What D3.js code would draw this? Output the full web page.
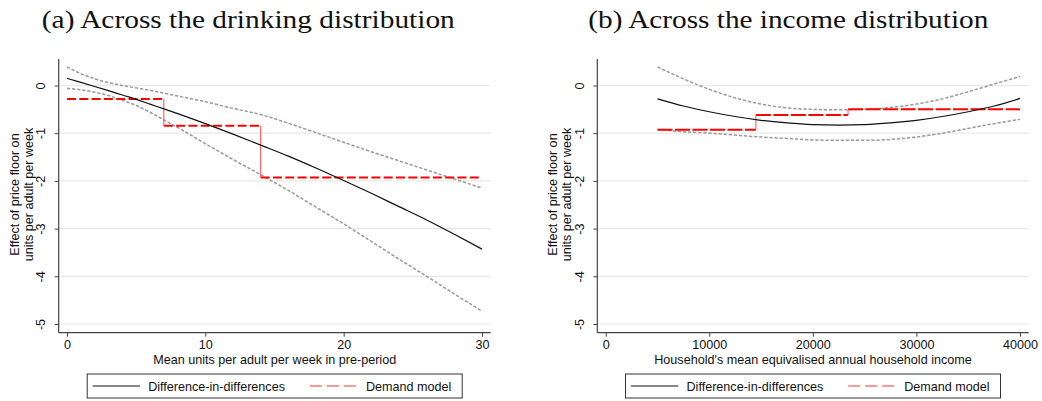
<!DOCTYPE html>
<html>
<head>
<meta charset="utf-8">
<script src="https://cdn.jsdelivr.net/npm/d3@7"></script>
<style>
  html, body { margin: 0; padding: 0; background: #fff; }
  svg { display: block; }
</style>
</head>
<body>
<svg id="chart" width="1042" height="401"></svg>
<script>
// ---------- data ----------
const panelTitles = ["(a) Across the drinking distribution", "(b) Across the income distribution"];
const xTitles = ["Mean units per adult per week in pre-period", "Household's mean equivalised annual household income"];
const yTitleLines = ["Effect of price floor on", "units per adult per week"];
const yTicks = [0, -1, -2, -3, -4, -5];
const legendLabels = ["Difference-in-differences", "Demand model"];

// Panel (a): drinking distribution
const drinkTicks = [0, 10, 20, 30];
const drinkX      = [0, 1, 2, 3, 4, 5, 6, 7, 8, 10, 12, 14, 16, 18, 20, 22, 24, 26, 28, 30];
const drinkDiD    = [0.15, 0.066, -0.02, -0.108, -0.20, -0.29, -0.39, -0.49, -0.59, -0.80, -1.02, -1.25, -1.48, -1.73, -1.99, -2.26, -2.54, -2.82, -3.12, -3.43];
const drinkUpper  = [0.39, 0.25, 0.14, 0.06, 0.00, -0.05, -0.10, -0.16, -0.22, -0.34, -0.48, -0.61, -0.79, -0.99, -1.19, -1.39, -1.58, -1.77, -1.96, -2.15];
const drinkLower  = [-0.06, -0.09, -0.14, -0.21, -0.31, -0.42, -0.56, -0.72, -0.88, -1.22, -1.55, -1.87, -2.20, -2.55, -2.90, -3.27, -3.64, -4.00, -4.37, -4.73];
const drinkDemandBreaks = [0, 7, 14, 30];
const drinkDemandLevels = [-0.285, -0.845, -1.93];

// Panel (b): income distribution
const incomeTicks = [0, 10000, 20000, 30000, 40000];
const incomeX     = [5000, 7500, 10000, 12500, 15000, 17500, 20000, 22500, 25000, 27500, 30000, 32500, 35000, 37500, 40000];
const incomeDiD   = [-0.28, -0.43, -0.55, -0.65, -0.73, -0.785, -0.82, -0.83, -0.82, -0.785, -0.73, -0.65, -0.55, -0.43, -0.27];
const incomeUpper = [0.39, 0.14, -0.08, -0.26, -0.39, -0.47, -0.50, -0.51, -0.50, -0.46, -0.39, -0.28, -0.13, 0.03, 0.19];
const incomeLower = [-0.92, -0.97, -1.00, -1.04, -1.08, -1.11, -1.14, -1.15, -1.15, -1.13, -1.08, -1.00, -0.90, -0.80, -0.71];
const incomeDemandBreaks = [5000, 14500, 23400, 40000];
const incomeDemandLevels = [-0.93, -0.62, -0.50];

// ---------- drawing ----------
const svg = d3.select("#chart");
const SANS = "'Liberation Sans', Arial, sans-serif";
const SERIF = "'Liberation Serif', 'Times New Roman', serif";
const FS = 12.6;
const fmt = d => String(d);

function drawPanel(o) {
  const g = svg.append("g");
  const x = d3.scaleLinear().domain(o.xDomain).range(o.xRange);
  const y = d3.scaleLinear().domain([0, -5]).range([85.5, 324]);
  const left = o.axisX, right = o.plotRight, top = 59, bottom = 332.7;

  // title
  g.append("text")
    .attr("x", o.titleX).attr("y", 27.5)
    .attr("text-anchor", "middle")
    .attr("font-family", SERIF).attr("font-size", 26)
    .attr("fill", "#111")
    .attr("textLength", o.titleWidth).attr("lengthAdjust", "spacingAndGlyphs")
    .text(o.title);

  // gridlines
  g.selectAll("line.grid").data(yTicks).enter().append("line")
    .attr("x1", left).attr("x2", right)
    .attr("y1", d => y(d)).attr("y2", d => y(d))
    .attr("stroke", "#e8e8e8").attr("stroke-width", 1.2);

  // y axis
  const yAxis = d3.axisLeft(y).tickValues(yTicks).tickSize(4).tickFormat(fmt);
  const ya = g.append("g").attr("transform", `translate(${left},0)`).call(yAxis);
  ya.select(".domain").attr("d", `M0,${top}V${bottom}`).attr("stroke", "#444").attr("stroke-width", 1.2);
  ya.selectAll(".tick line").attr("stroke", "#444");
  ya.selectAll(".tick text")
    .attr("font-family", SANS).attr("font-size", FS).attr("fill", "#111")
    .attr("x", null).attr("dy", null)
    .attr("text-anchor", "middle")
    .attr("transform", "translate(-13.5,0) rotate(-90)");

  // x axis
  const xAxis = d3.axisBottom(x).tickValues(o.ticks).tickSize(4).tickFormat(fmt);
  const xa = g.append("g").attr("transform", `translate(0,${bottom})`).call(xAxis);
  xa.select(".domain").attr("d", `M${left},0H${right}`).attr("stroke", "#444").attr("stroke-width", 1.2);
  xa.selectAll(".tick line").attr("stroke", "#444");
  xa.selectAll(".tick text")
    .attr("font-family", SANS).attr("font-size", FS).attr("fill", "#111")
    .attr("y", 16.5).attr("dy", null);

  // axis titles
  g.append("text")
    .attr("x", (left + right) / 2).attr("y", 363.5)
    .attr("text-anchor", "middle")
    .attr("font-family", SANS).attr("font-size", FS).attr("fill", "#111")
    .text(o.xTitle);
  yTitleLines.forEach((line, i) => {
    g.append("text")
      .attr("transform", `translate(${left - 40.2 + i * 14},194.5) rotate(-90)`)
      .attr("text-anchor", "middle")
      .attr("font-family", SANS).attr("font-size", FS).attr("fill", "#111")
      .text(line);
  });

  const line = d3.line().x(d => x(d[0])).y(d => y(d[1])).curve(d3.curveMonotoneX);

  // confidence bands (gray dashed)
  [o.upper, o.lower].forEach(arr => {
    g.append("path")
      .datum(o.xs.map((v, i) => [v, arr[i]]))
      .attr("d", line)
      .attr("fill", "none").attr("stroke", "#9a9a9a")
      .attr("stroke-width", 1.5).attr("stroke-dasharray", "3.3,1.8");
  });

  // demand model step line
  o.levels.forEach((lv, i) => {
    g.append("line")
      .attr("x1", x(o.breaks[i])).attr("x2", x(o.breaks[i + 1]))
      .attr("y1", y(lv)).attr("y2", y(lv))
      .attr("stroke", "#ff0000").attr("stroke-width", 2)
      .attr("stroke-dasharray", o.redDash);
    if (i > 0) {
      g.append("line")
        .attr("x1", x(o.breaks[i])).attr("x2", x(o.breaks[i]))
        .attr("y1", y(o.levels[i - 1])).attr("y2", y(lv))
        .attr("stroke", "#ff4a4a").attr("stroke-width", 1);
    }
  });

  // DiD line
  g.append("path")
    .datum(o.xs.map((v, i) => [v, o.did[i]]))
    .attr("d", line)
    .attr("fill", "none").attr("stroke", "#111").attr("stroke-width", 1.2);

  // legend
  const lx = (left + right) / 2 - 187.5, ly = 374;
  const lg = g.append("g").attr("transform", `translate(${lx},${ly})`);
  lg.append("rect").attr("width", 375).attr("height", 24)
    .attr("fill", "#fff").attr("stroke", "#333").attr("stroke-width", 1);
  lg.append("line").attr("x1", 5.4).attr("x2", 52.7).attr("y1", 12).attr("y2", 12)
    .attr("stroke", "#111").attr("stroke-width", 1);
  lg.append("text").attr("x", 61).attr("y", 16.5)
    .attr("font-family", SANS).attr("font-size", FS).attr("fill", "#111")
    .text(legendLabels[0]);
  lg.append("line").attr("x1", 222.7).attr("x2", 270).attr("y1", 12).attr("y2", 12)
    .attr("stroke", "#ff3030").attr("stroke-width", 1).attr("stroke-dasharray", "12,5");
  lg.append("text").attr("x", 278.7).attr("y", 16.5)
    .attr("font-family", SANS).attr("font-size", FS).attr("fill", "#111")
    .text(legendLabels[1]);
}

drawPanel({
  title: panelTitles[0], titleX: 248.3, titleWidth: 413,
  xDomain: [0, 30], xRange: [67, 482], axisX: 58.7, plotRight: 490.7,
  ticks: drinkTicks, xTitle: xTitles[0],
  xs: drinkX, did: drinkDiD, upper: drinkUpper, lower: drinkLower,
  breaks: drinkDemandBreaks, levels: drinkDemandLevels, redDash: "9,3.3"
});
drawPanel({
  title: panelTitles[1], titleX: 788.3, titleWidth: 400,
  xDomain: [0, 40000], xRange: [605.7, 1020], axisX: 597.3, plotRight: 1028.7,
  ticks: incomeTicks, xTitle: xTitles[1],
  xs: incomeX, did: incomeDiD, upper: incomeUpper, lower: incomeLower,
  breaks: incomeDemandBreaks, levels: incomeDemandLevels, redDash: "15,2.5"
});
</script>
</body>
</html>
